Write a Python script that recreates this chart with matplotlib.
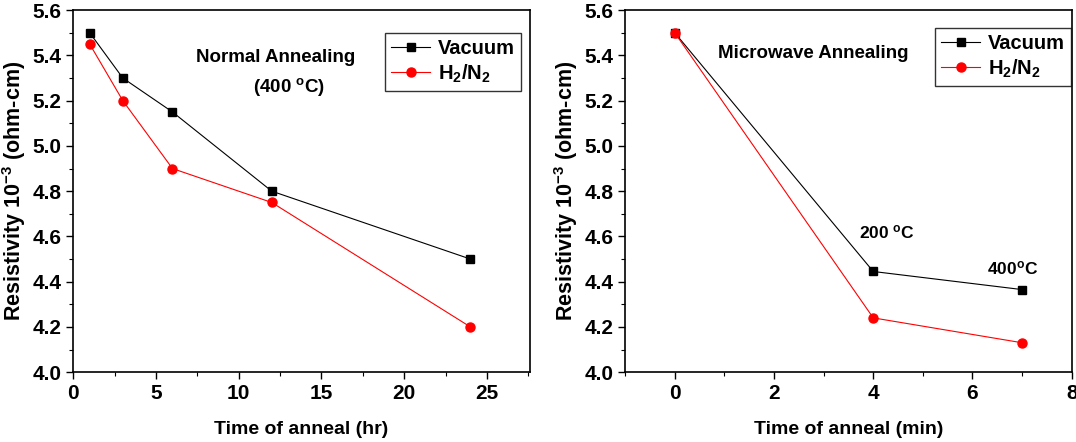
import numpy as np
import matplotlib.pyplot as plt
from matplotlib.ticker import MultipleLocator

# Normal annealing (hr)
t_normal = [1, 3, 6, 12, 24]
vac_normal = [5.50, 5.30, 5.15, 4.80, 4.50]
h2n2_normal = [5.45, 5.20, 4.90, 4.75, 4.20]

# Microwave annealing (min)
t_micro = [0, 4, 7]
vac_micro = [5.50, 4.445, 4.365]
h2n2_micro = [5.50, 4.24, 4.13]

plt.rcParams['font.family'] = ['Liberation Sans', 'DejaVu Sans']
plt.rcParams['font.weight'] = 'bold'
plt.rcParams['mathtext.default'] = 'regular'

fig = plt.figure(figsize=(10.76, 4.42), dpi=100)
ax1 = fig.add_axes([0.068, 0.158, 0.4245, 0.819])
ax2 = fig.add_axes([0.581, 0.158, 0.415, 0.819])

ylabel = 'Resistivity 10$^{-3}$ (ohm-cm)'

def style(ax, xlabel):
    ax.set_ylim(4.0, 5.6)
    ax.yaxis.set_major_locator(MultipleLocator(0.2))
    ax.yaxis.set_minor_locator(MultipleLocator(0.1))
    ax.tick_params(which='both', direction='out', top=False, right=False,
                   labelsize=15)
    ax.tick_params(which='major', length=5, width=1)
    ax.tick_params(which='minor', length=3, width=0.8)
    for s in ax.spines.values():
        s.set_linewidth(1.2)
    ax.set_ylabel(ylabel, fontsize=15.5, fontweight='bold', labelpad=3)
    ax.set_xlabel(xlabel, fontsize=14, fontweight='bold', labelpad=13)
    for lab in ax.get_xticklabels() + ax.get_yticklabels():
        lab.set_fontweight('bold')

legend_kw = dict(fontsize=14.5, frameon=True, fancybox=False, edgecolor='black',
                 handlelength=1.9, borderpad=0.3, labelspacing=0.2, handletextpad=0.4,
                 borderaxespad=0)

# left panel
ax1.plot(t_normal, vac_normal, color='black', lw=0.8, marker='s', ms=6, label='Vacuum')
ax1.plot(t_normal, h2n2_normal, color='red', lw=0.8, marker='o', ms=6.5, label='H$_2$/N$_2$')
ax1.set_xlim(0, 27.6)
ax1.xaxis.set_major_locator(MultipleLocator(5))
ax1.xaxis.set_minor_locator(MultipleLocator(2.5))
style(ax1, 'Time of anneal (hr)')
ax1.text(12.25, 5.39, 'Normal Annealing', fontsize=13.5, fontweight='bold', ha='center', va='center')
ax1.text(13.05, 5.26, '(400 $^{o}$C)', fontsize=13.5, fontweight='bold', ha='center', va='center')
leg1 = ax1.legend(loc='upper right', bbox_to_anchor=(0.98, 0.936), **legend_kw)
leg1.get_frame().set_linewidth(1.0)

# right panel
ax2.plot(t_micro, vac_micro, color='black', lw=0.8, marker='s', ms=6, label='Vacuum')
ax2.plot(t_micro, h2n2_micro, color='red', lw=0.8, marker='o', ms=6.5, label='H$_2$/N$_2$')
ax2.set_xlim(-1, 8)
ax2.xaxis.set_major_locator(MultipleLocator(2))
ax2.xaxis.set_minor_locator(MultipleLocator(1))
style(ax2, 'Time of anneal (min)')
ax2.text(2.8, 5.41, 'Microwave Annealing', fontsize=13.5, fontweight='bold', ha='center', va='center')
ax2.text(4.27, 4.62, '200 $^{o}$C', fontsize=12.5, ha='center', va='center')
ax2.text(6.8, 4.46, '400$^{o}$C', fontsize=12.5, ha='center', va='center')
leg2 = ax2.legend(loc='upper right', bbox_to_anchor=(0.998, 0.95), **legend_kw)
leg2.get_frame().set_linewidth(1.0)

fig.savefig('out.png', dpi=100)
